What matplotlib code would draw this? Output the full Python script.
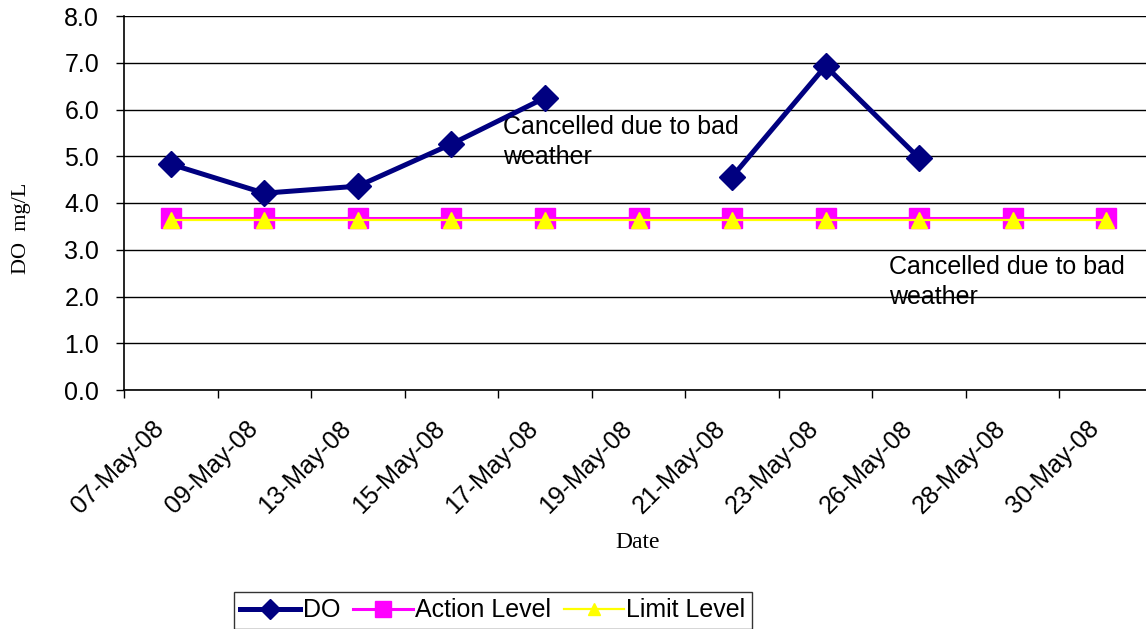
import numpy as np
import matplotlib
matplotlib.use("Agg")
import matplotlib.pyplot as plt
import matplotlib.transforms as mtrans
from matplotlib.ticker import FixedLocator

dates = ["07-May-08", "09-May-08", "13-May-08", "15-May-08", "17-May-08", "19-May-08",
         "21-May-08", "23-May-08", "26-May-08", "28-May-08", "30-May-08"]
do_values = [4.83, 4.21, 4.36, 5.26, 6.25, np.nan, 4.56, 6.93, 4.96, np.nan, np.nan]
action_level = [3.67] * 11
limit_level = [3.64] * 11

plt.rcParams['font.family'] = ['Liberation Sans', 'DejaVu Sans']
FS = 18

fig = plt.figure(figsize=(11.46, 6.29), dpi=100)
ax = fig.add_axes([124/1146, (629-390)/629, (1153-124)/1146, 374/629])

x = np.arange(len(dates))
ax.plot(x, action_level, color='#FF00FF', lw=2.2, marker='s', markersize=14,
        markerfacecolor='#FF00FF', markeredgecolor='#FF00FF', label='Action Level', zorder=3)
ax.plot(x, limit_level, color='#FFFF00', lw=1.6, marker='^', markersize=11,
        markerfacecolor='#FFFF00', markeredgecolor='#FFFF00', label='Limit Level', zorder=4)
ax.plot(x, do_values, color='#000080', lw=3.6, marker='D', markersize=13,
        markerfacecolor='#000080', markeredgecolor='#000080', label='DO', zorder=5)

ax.set_xlim(-0.5, len(dates) - 0.5)
ax.set_ylim(0, 8)
yt = np.arange(0, 8.01, 1.0)
ax.set_yticks(yt)
ax.set_yticklabels([f"{v:.1f}" for v in yt], fontsize=FS)
ax.yaxis.grid(True, color='#000000', lw=1.0)
ax.set_axisbelow(True)

ax.set_xticks(x)
ax.set_xticklabels(dates, rotation=45, ha='right', va='top', rotation_mode='anchor', fontsize=FS)
ax.tick_params(axis='x', which='major', length=0, pad=19)
ax.xaxis.set_minor_locator(FixedLocator(np.arange(-0.5, len(dates), 1.0)))
ax.tick_params(axis='x', which='minor', length=6, width=1, direction='out')
ax.tick_params(axis='y', length=6, width=1, direction='out', pad=12)
offset = mtrans.ScaledTranslation(-19/100, 0, fig.dpi_scale_trans)
for lab in ax.get_xticklabels():
    lab.set_transform(lab.get_transform() + offset)

for side in ['top', 'right']:
    ax.spines[side].set_visible(False)
ax.spines['left'].set_linewidth(1.2)
ax.spines['bottom'].set_linewidth(1.2)

fig.text(22/1146, 1 - 228/629, "DO  mg/L", family=['Liberation Serif', 'DejaVu Serif'],
         fontsize=16, rotation=90, ha='center', va='center')
fig.text(638/1146, 1 - 543/629, "Date", family=['Liberation Serif', 'DejaVu Serif'],
         fontsize=17, ha='center', va='center')

ax.text(3.55, 5.88, "Cancelled due to bad\nweather", fontsize=FS, va='top', ha='left',
        linespacing=1.3)
ax.text(7.68, 2.88, "Cancelled due to bad\nweather", fontsize=FS, va='top', ha='left',
        linespacing=1.3)

handles, labels = ax.get_legend_handles_labels()
order = [2, 0, 1]
leg = fig.legend([handles[i] for i in order], [labels[i] for i in order],
                 loc='upper left', bbox_to_anchor=(234/1146, 1 - 592/629), ncol=3,
                 fontsize=FS, frameon=True, fancybox=False, edgecolor='black',
                 handlelength=2.4, handletextpad=0.1, columnspacing=0.5,
                 borderpad=0.25, borderaxespad=0, markerscale=0.8)
leg.get_frame().set_linewidth(1.0)

fig.savefig("out.png", dpi=100)
